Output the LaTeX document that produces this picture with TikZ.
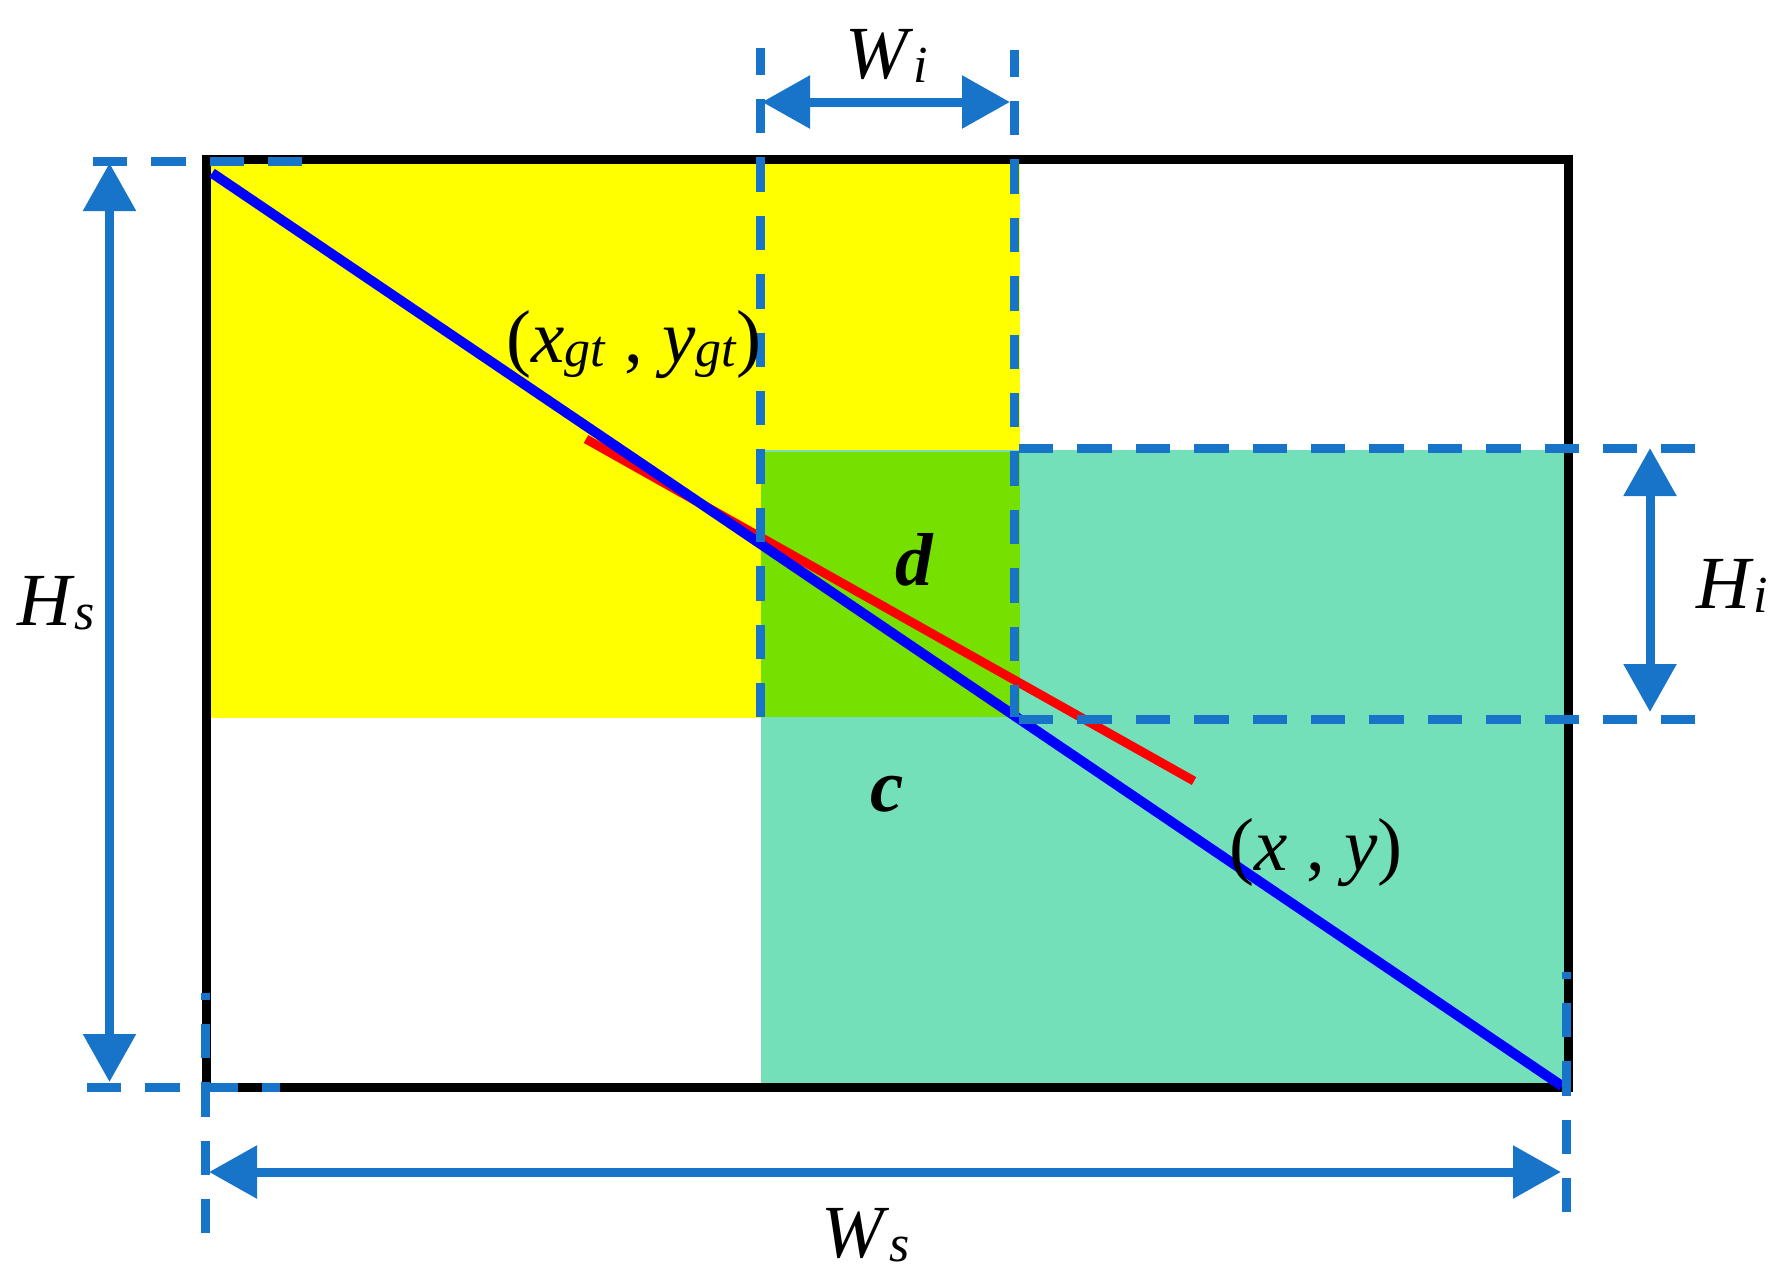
\documentclass[tikz,border=0pt]{standalone}
\usepackage{fontspec}
\setmainfont{Liberation Serif}
\usetikzlibrary{arrows.meta}
\definecolor{dimblue}{RGB}{24,116,200}
\definecolor{fillyellow}{RGB}{255,255,0}
\definecolor{fillgreen}{RGB}{118,224,0}
\definecolor{fillteal}{RGB}{116,224,186}
\newcommand{\sublbl}[2]{\textit{#1}\raisebox{-2pt}{\fontsize{26}{28}\selectfont\textit{#2}}}
\begin{document}
\begin{tikzpicture}[x=0.5pt,y=-0.5pt,
  dimline/.style={draw=dimblue, line width=4.5pt, dash pattern=on 17.2pt off 12pt},
  dimarrow/.style={draw=dimblue, line width=4.5pt, {Triangle[length=24pt,width=25.5pt]}-{Triangle[length=24pt,width=25.5pt]}},
  lbl/.style={inner sep=0pt, anchor=base, font=\fontsize{37.5}{40}\selectfont},
  border/.style={draw=black, line width=4.5pt},
  diag/.style={line width=5pt}
]
\useasboundingbox (0,0) rectangle (1787,1282);
% main frame
\coordinate (TL) at (206,159);
\coordinate (BR) at (1568,1087);
% fills
\fill[fillyellow] (206,159) rectangle (1020,718);
\fill[fillteal] (761,450) rectangle (1568,1087);
\fill[fillgreen] (761,452) rectangle (1020,717);
\draw[border] (TL) rectangle (BR);
% diagonals
\coordinate (R1) at (586,439);
\coordinate (R2) at (1194,781);
\coordinate (B1) at (212,173);
\coordinate (B2) at (1562,1086);
\draw[diag, red, line width=4.5pt] (R1) -- (R2);
\draw[diag, blue] (B1) -- (B2);
% dashed guide lines
\coordinate (t1) at (93,161.5);  \coordinate (t2) at (302,161.5);
\coordinate (b1) at (87,1087);   \coordinate (b2) at (280,1087);
\coordinate (l1) at (205.5,993); \coordinate (l2) at (205.5,1233);
\coordinate (r1) at (1566,972);  \coordinate (r2) at (1566,1212);
\coordinate (wl1) at (760,48);   \coordinate (wl2) at (760,717);
\coordinate (wr1) at (1014.5,50); \coordinate (wr2) at (1014.5,717);
\coordinate (ht1) at (1019,448); \coordinate (ht2) at (1695,448);
\coordinate (hb1) at (1019,719); \coordinate (hb2) at (1695,719);
\draw[dimline] (t1) -- (t2);
\draw[dimline] (b1) -- (b2);
\draw[dimline, dash phase=13.7pt] (l1) -- (l2);
\draw[dimline, dash phase=13.7pt] (r1) -- (r2);
\draw[dimline, dash phase=3.7pt] (wl1) -- (wl2);
\draw[dimline, dash phase=3.7pt] (wr1) -- (wr2);
\draw[dimline] (ht1) -- (ht2);
\draw[dimline] (hb1) -- (hb2);
% dimension arrows
\coordinate (wa1) at (762,102);   \coordinate (wa2) at (1010,102);
\coordinate (hsa1) at (109.5,163); \coordinate (hsa2) at (109.5,1082);
\coordinate (hia1) at (1650,448); \coordinate (hia2) at (1650,712);
\coordinate (wsa1) at (209,1172); \coordinate (wsa2) at (1561,1172);
\draw[dimarrow] (wa1) -- (wa2);
\draw[dimarrow] (hsa1) -- (hsa2);
\draw[dimarrow] (hia1) -- (hia2);
\draw[dimarrow] (wsa1) -- (wsa2);
% labels
\node[lbl] (wi) at (887,78) {\sublbl{W}{i}};
\node[lbl] (hi) at (1732,608) {\sublbl{H}{i}};
\node[lbl] (hs) at (56,625) {\sublbl{H}{s}};
\node[lbl] (ws) at (866,1257) {\sublbl{W}{s}};
\node[lbl] (gt) at (634,362) {(\sublbl{x}{gt} , \sublbl{y}{gt})};
\node[lbl] (dl) at (915,585) {\textbf{\textit{d}}};
\node[lbl] (cl) at (887,811) {\textbf{\textit{c}}};
\node[lbl] (xy) at (1316,870) {(\textit{x} , \textit{y})};
\end{tikzpicture}
\end{document}
